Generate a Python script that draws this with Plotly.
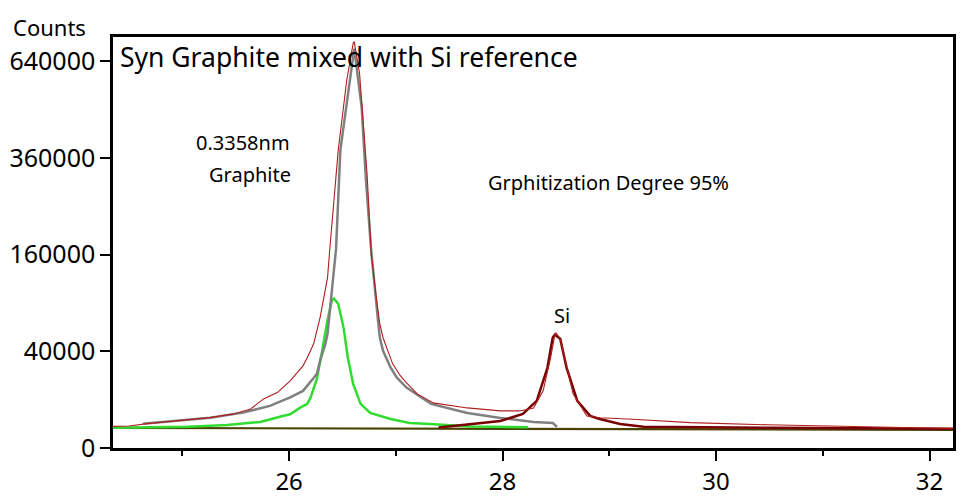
import numpy as np
import plotly.graph_objects as go

# ---- data (2-theta, counts) ----
bg_x = [24.35, 26.0, 28.0, 30.0, 32.22]
bg_y = [1720, 1680, 1620, 1520, 1420]

obs_x = [24.35, 24.50, 24.67, 24.95, 25.26, 25.48, 25.64, 25.76, 25.89, 26.01, 26.13, 26.17, 26.23,
         26.29, 26.32, 26.36, 26.38, 26.46, 26.54, 26.60, 26.61, 26.66, 26.73, 26.77, 26.82, 26.85, 26.88,
         26.97, 27.04, 27.10, 27.20, 27.35, 27.67, 27.98, 28.16, 28.29, 28.38, 28.45, 28.49, 28.50,
         28.54, 28.60, 28.66, 28.79, 28.91, 29.22, 29.76, 30.48, 31.35, 32.22]
obs_y = [2000, 2080, 2540, 3130, 3940, 4970, 6530, 10300, 13130, 19280, 28880, 34790, 46460,
         72590, 92830, 124100, 166700, 378900, 578500, 701000, 706300, 600800, 322500, 160000, 92830, 66000, 52000,
         30300, 22500, 18150, 12525, 8700, 6870, 5880, 5880, 6870, 13960, 34790, 54840, 56500,
         51030, 27490, 12525, 4400, 3900, 3540, 2750, 2300, 1950, 1620]

gr_x = [24.63, 24.95, 25.26, 25.57, 25.82, 26.01, 26.13, 26.23, 26.26, 26.29, 26.34, 26.36, 26.39,
        26.42, 26.44, 26.48, 26.57, 26.61, 26.68, 26.72, 26.77, 26.81, 26.83, 26.85, 26.88, 26.95, 27.01,
        27.10, 27.19, 27.33, 27.67, 27.98, 28.29, 28.47, 28.51]
gr_y = [2540, 3130, 3940, 5350, 7580, 11000, 13950, 21000, 23500, 32500, 46400, 55800, 92800,
        139000, 170000, 378900, 578500, 682000, 496600, 306000, 165000, 92800, 72900, 52200, 40400, 27700, 21200,
        15600, 12380, 8300, 5260, 3870, 2900, 2680, 1900]

g2_x = [24.35, 25.05, 25.42, 25.73, 25.94, 26.01, 26.10, 26.17, 26.20, 26.24, 26.26, 26.31, 26.36, 26.40,
        26.42, 26.46, 26.51, 26.55, 26.60, 26.67, 26.76, 26.95, 27.13, 27.32, 27.70, 28.24]
g2_y = [1760, 1950, 2270, 2900, 4400, 4870, 6870, 8316, 10740, 17600, 20450, 40400, 70000, 92830,
        95360, 89060, 62000, 35000, 17600, 8316, 5260, 3612, 2684, 2470, 2000, 1850]

si_x = [27.40, 27.98, 28.19, 28.32, 28.42, 28.47, 28.49, 28.54, 28.60, 28.70, 28.82, 28.91, 29.10,
        29.32, 30.50, 32.22]
si_y = [1800, 3130, 4965, 9490, 27490, 52250, 54840, 51030, 27490, 9490, 4400, 3612, 2470,
        1950, 1750, 1600]

y_ticks = [0, 40000, 160000, 360000, 640000]
y_tick_labels = ["0", "40000", "160000", "360000", "640000"]
x_ticks = [26, 28, 30, 32]

FONT = "Noto Sans"

def s(v):
    return np.sqrt(np.asarray(v, dtype=float))

fig = go.Figure()
fig.add_trace(go.Scatter(x=bg_x, y=s(bg_y), mode="lines", line=dict(color="#4a4200", width=2.2), hoverinfo="skip"))
fig.add_trace(go.Scatter(x=g2_x, y=s(g2_y), mode="lines", line=dict(color="#2fdc2f", width=2.5), hoverinfo="skip"))
fig.add_trace(go.Scatter(x=gr_x, y=s(gr_y), mode="lines", line=dict(color="#808080", width=2.5), hoverinfo="skip"))
fig.add_trace(go.Scatter(x=si_x, y=s(si_y), mode="lines", line=dict(color="#780000", width=2.5), hoverinfo="skip"))
fig.add_trace(go.Scatter(x=obs_x, y=s(obs_y), mode="lines", line=dict(color="#b01e1e", width=1.1), hoverinfo="skip"))

# page body has an 8px margin: figure is placed at (8, 8); keep it inside the window
OFF = 8
W, H = 972 - 2 * OFF, 504 - 2 * OFF
L, T, R, B = 113 - OFF, 37 - OFF, W - (953 - OFF), H - (448 - OFF)

fig.update_layout(
    width=W, height=H,
    margin=dict(l=L, r=R, t=T, b=B),
    paper_bgcolor="white", plot_bgcolor="white",
    showlegend=False,
    font=dict(family=FONT, color="black", size=24),
)
fig.update_xaxes(
    range=[24.35, 32.22], tickvals=x_ticks, ticks="outside", ticklen=10, tickwidth=1.5, tickcolor="black",
    showline=True, linecolor="black", linewidth=2.5, mirror=True, showgrid=False, zeroline=False,
    minor=dict(tickvals=[25, 27, 29, 31], ticks="outside", ticklen=5, tickwidth=1.5, tickcolor="black"),
    tickfont=dict(size=24, family=FONT), automargin=False,
)
fig.update_yaxes(
    range=[0, 850], tickvals=s(y_ticks), ticktext=y_tick_labels, ticks="outside", ticklen=10, tickwidth=1.5,
    tickcolor="black", showline=True, linecolor="black", linewidth=2.5, mirror=True, showgrid=False,
    zeroline=False, tickfont=dict(size=25, family=FONT), automargin=False,
)

def px(xp):
    return (xp - 113) / (953 - 113)

def py(yp):
    return (448 - yp) / (448 - 37)

def ann(text, x, y, size, xanchor="left", yanchor="middle"):
    fig.add_annotation(text=text, x=px(x), y=py(y), xref="paper", yref="paper", showarrow=False,
                       xanchor=xanchor, yanchor=yanchor, borderpad=0,
                       font=dict(size=size, family=FONT, color="black"))

ann("Counts", 12, 11, 22, "left", "top")
ann("Syn Graphite mixed with Si reference", 119, 57, 26.5)
ann("0.3358nm", 243, 142, 20, "center")
ann("Graphite", 250, 174, 20, "center")
ann("Grphitization Degree 95%", 487, 182, 20)
ann("Si", 562, 315, 20, "center")

fig.write_html("out.html")
